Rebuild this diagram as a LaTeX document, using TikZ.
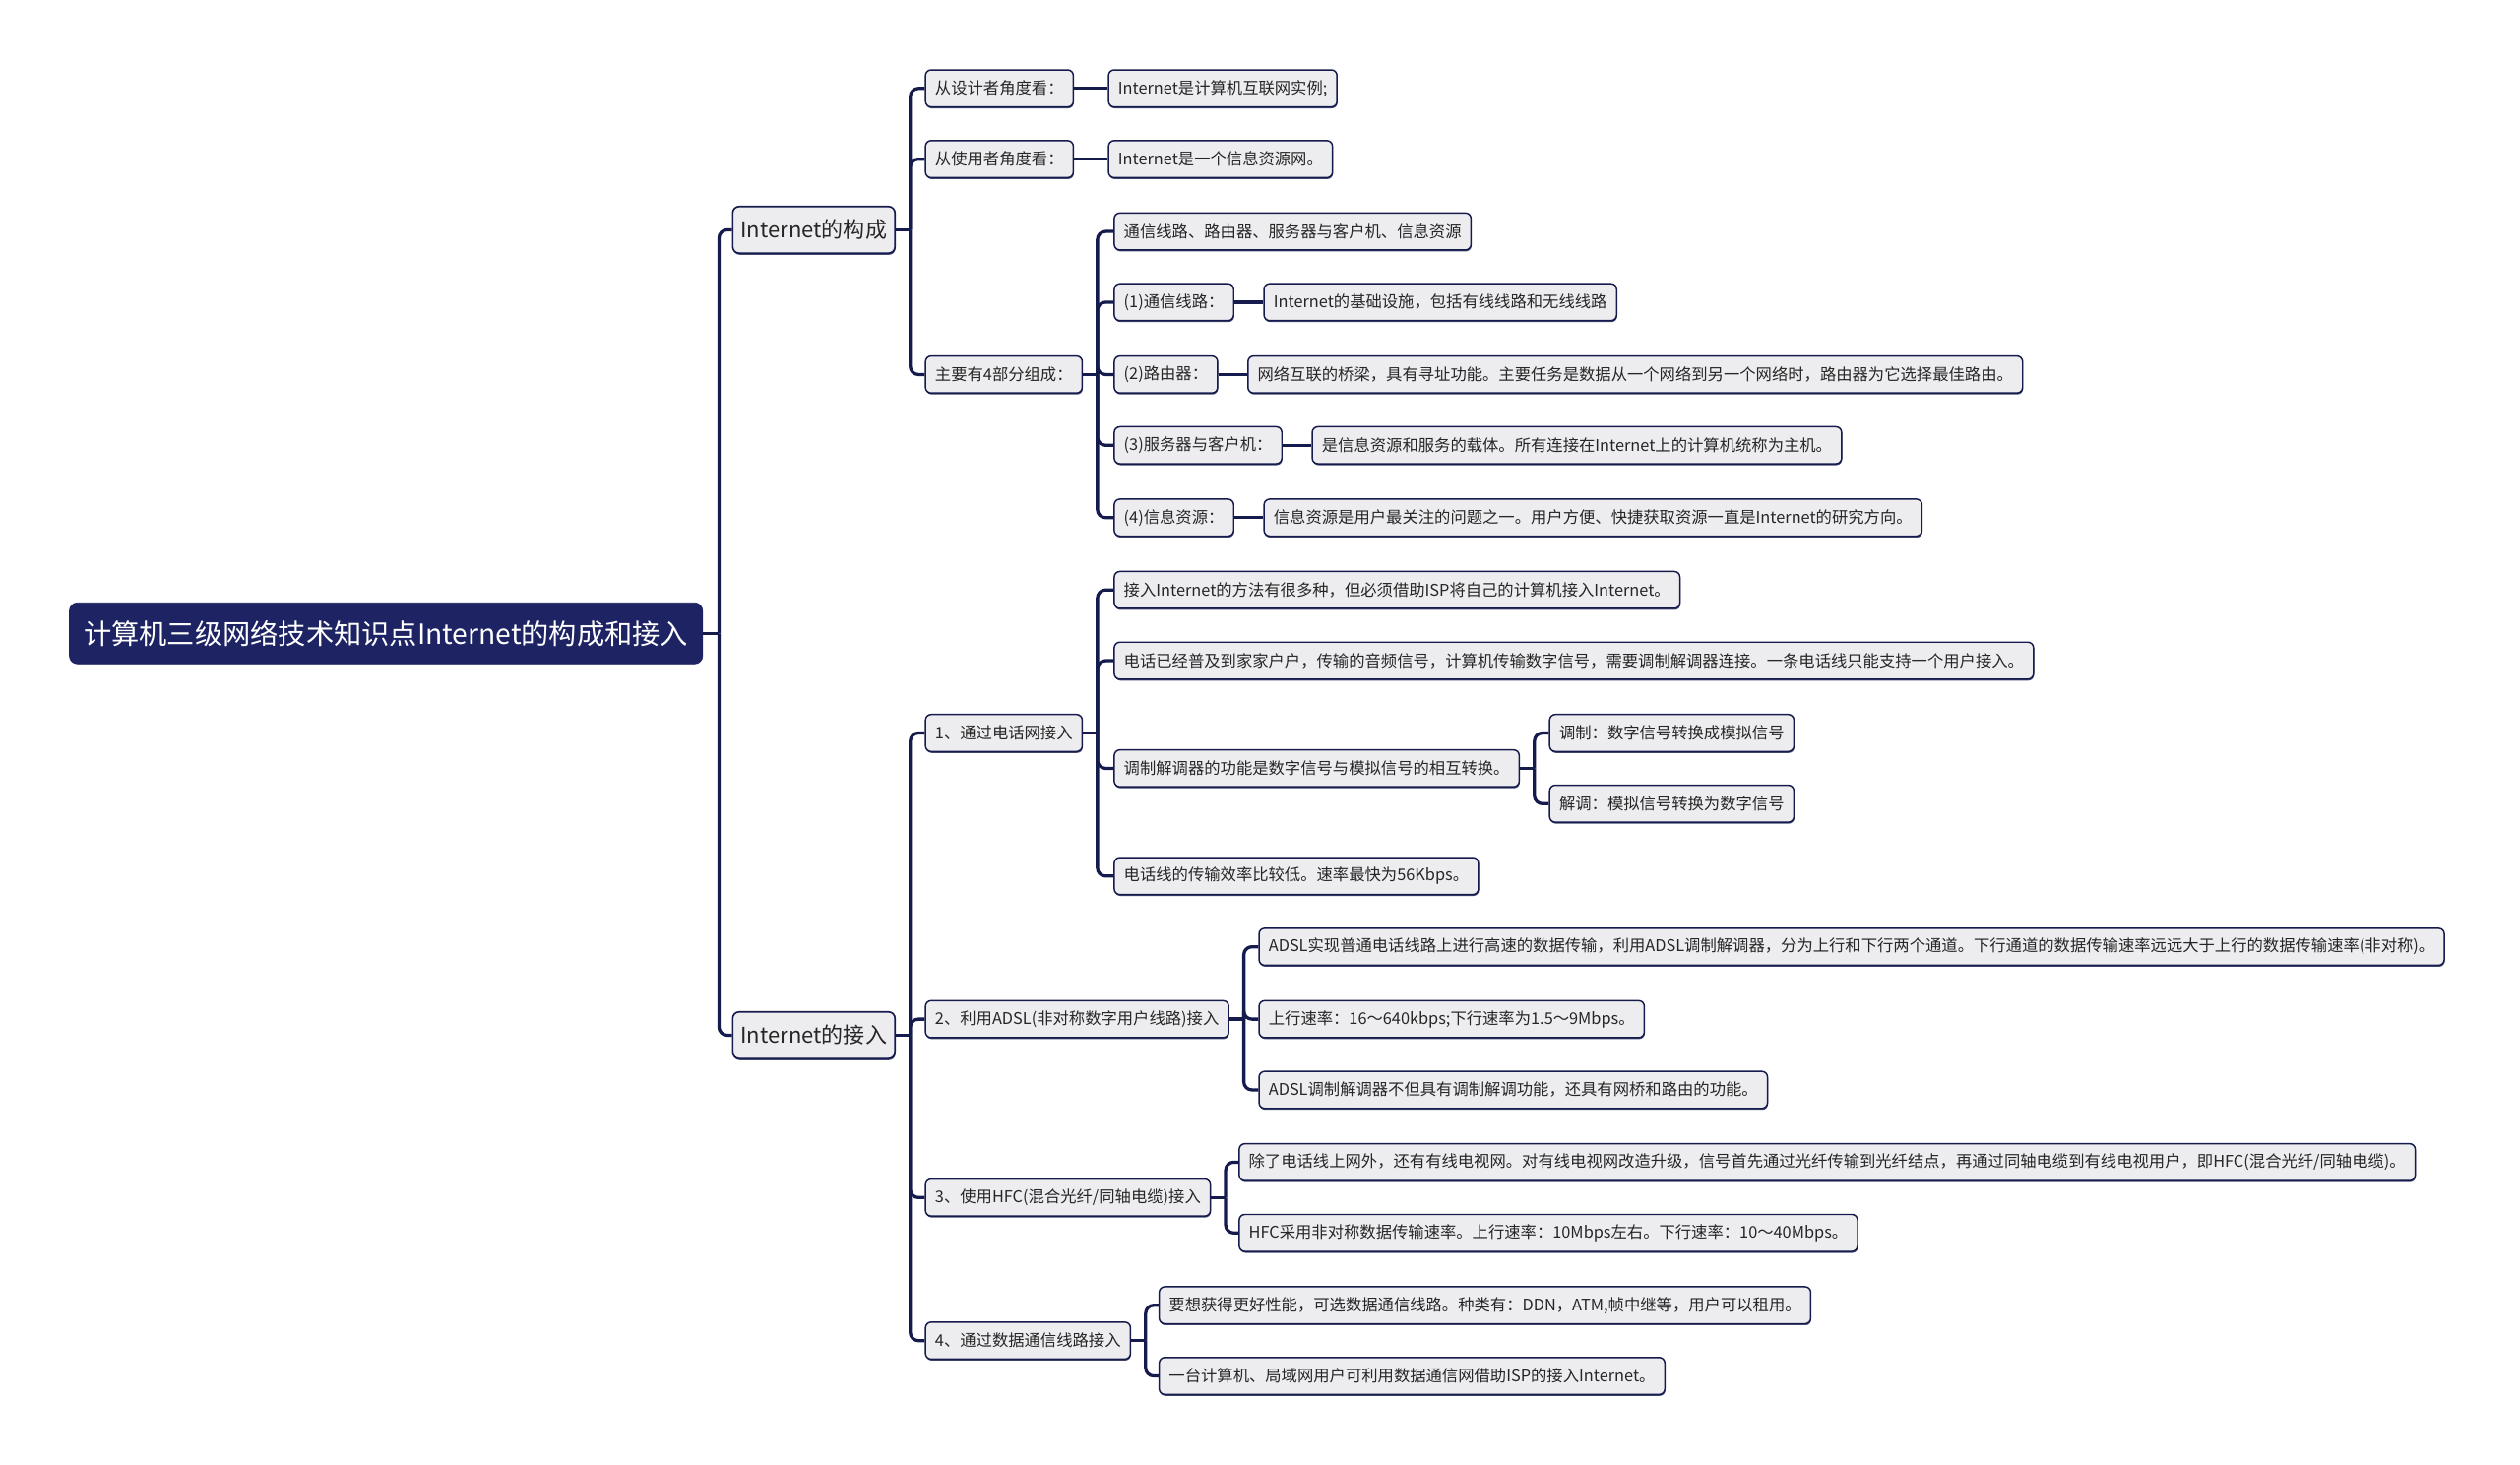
\documentclass[tikz,border=0pt]{standalone}
\usepackage{fontspec}
\newfontfamily\cjk{Noto Sans CJK SC}
\usetikzlibrary{positioning, shadows}

\definecolor{navy}{HTML}{1E2463}
\definecolor{linec}{HTML}{161B4D}
\definecolor{boxfill}{HTML}{EDEDF0}
\definecolor{textc}{HTML}{262626}

\begin{document}
\begin{tikzpicture}[
        % Node style: rounded boxes of the mind map
        rootbox/.style={
                rectangle, rounded corners=5pt,
                fill=navy, draw=navy, text=white,
                minimum height=38pt, minimum width=394pt, inner xsep=8pt,
                font=\cjk\fontsize{17.3}{20}\selectfont
            },
        mainbox/.style={
                rectangle, rounded corners=4pt,
                fill=boxfill, draw=linec, line width=1pt, text=textc,
                minimum height=29pt, minimum width=101pt, inner xsep=5pt,
                drop shadow={shadow xshift=0.3pt, shadow yshift=-1pt, fill=linec, opacity=.8},
                font=\cjk\fontsize{13.5}{16}\selectfont
            },
        subbox/.style={
                rectangle, rounded corners=3.5pt,
                fill=boxfill, draw=linec, line width=0.9pt, text=textc,
                minimum height=23pt, inner xsep=6pt,
                drop shadow={shadow xshift=0.3pt, shadow yshift=-0.9pt, fill=linec, opacity=.8},
                font=\cjk\fontsize{10}{12}\selectfont
            },
        % Connector style
        conn/.style={draw=linec, line width=2pt, rounded corners=5pt},
        node distance=18pt
    ]

    \useasboundingbox (0,0) rectangle (1568pt,-911pt);

    %% ---- Root and main topics ----
    \node[rootbox, anchor=west] (r) at (43pt,-394pt) {计算机三级网络技术知识点Internet的构成和接入};
    \node[mainbox, right=of r, yshift=251pt] (c) {Internet的构成};
    \node[mainbox, right=of r, yshift=-250pt] (j) {Internet的接入};

    %% ---- Internet的构成 ----
    \node[subbox, right=of c, yshift=88pt] (c1) {从设计者角度看：};
    \node[subbox, right=21pt of c1] (c1a) {Internet是计算机互联网实例;};
    \node[subbox, right=of c, yshift=44pt] (c2) {从使用者角度看：};
    \node[subbox, right=21pt of c2] (c2a) {Internet是一个信息资源网。};
    \node[subbox, right=of c, yshift=-90pt] (c3) {主要有4部分组成：};

    \node[subbox, right=19pt of c3, yshift=89pt] (c3a) {通信线路、路由器、服务器与客户机、信息资源};
    \node[subbox, right=19pt of c3, yshift=45pt] (c3b) {(1)通信线路：};
    \node[subbox, right=of c3b] (c3b1) {Internet的基础设施，包括有线线路和无线线路};
    \node[subbox, right=19pt of c3] (c3c) {(2)路由器：};
    \node[subbox, right=of c3c] (c3c1) {网络互联的桥梁，具有寻址功能。主要任务是数据从一个网络到另一个网络时，路由器为它选择最佳路由。};
    \node[subbox, right=19pt of c3, yshift=-44pt] (c3d) {(3)服务器与客户机：};
    \node[subbox, right=of c3d] (c3d1) {是信息资源和服务的载体。所有连接在Internet上的计算机统称为主机。};
    \node[subbox, right=19pt of c3, yshift=-89pt] (c3e) {(4)信息资源：};
    \node[subbox, right=of c3e] (c3e1) {信息资源是用户最关注的问题之一。用户方便、快捷获取资源一直是Internet的研究方向。};

    %% ---- Internet的接入 ----
    \node[subbox, right=of j, yshift=188pt] (j1) {1、通过电话网接入};
    \node[subbox, right=of j, yshift=10pt] (j2) {2、利用ADSL(非对称数字用户线路)接入};
    \node[subbox, right=of j, yshift=-101pt] (j3) {3、使用HFC(混合光纤/同轴电缆)接入};
    \node[subbox, right=of j, yshift=-190pt] (j4) {4、通过数据通信线路接入};

    \node[subbox, right=19pt of j1, yshift=89pt] (j1a) {接入Internet的方法有很多种，但必须借助ISP将自己的计算机接入Internet。};
    \node[subbox, right=19pt of j1, yshift=45pt] (j1b) {电话已经普及到家家户户，传输的音频信号，计算机传输数字信号，需要调制解调器连接。一条电话线只能支持一个用户接入。};
    \node[subbox, right=19pt of j1, yshift=-22pt] (j1c) {调制解调器的功能是数字信号与模拟信号的相互转换。};
    \node[subbox, right=of j1c, yshift=22pt] (j1c1) {调制：数字信号转换成模拟信号};
    \node[subbox, right=of j1c, yshift=-22pt] (j1c2) {解调：模拟信号转换为数字信号};
    \node[subbox, right=19pt of j1, yshift=-89pt] (j1d) {电话线的传输效率比较低。速率最快为56Kbps。};

    \node[subbox, right=of j2, yshift=45pt] (j2a) {ADSL实现普通电话线路上进行高速的数据传输，利用ADSL调制解调器，分为上行和下行两个通道。下行通道的数据传输速率远远大于上行的数据传输速率(非对称)。};
    \node[subbox, right=of j2] (j2b) {上行速率：16～640kbps;下行速率为1.5～9Mbps。};
    \node[subbox, right=of j2, yshift=-44pt] (j2c) {ADSL调制解调器不但具有调制解调功能，还具有网桥和路由的功能。};

    \node[subbox, right=17pt of j3, yshift=22pt] (j3a) {除了电话线上网外，还有有线电视网。对有线电视网改造升级，信号首先通过光纤传输到光纤结点，再通过同轴电缆到有线电视用户，即HFC(混合光纤/同轴电缆)。};
    \node[subbox, right=17pt of j3, yshift=-22pt] (j3b) {HFC采用非对称数据传输速率。上行速率：10Mbps左右。下行速率：10～40Mbps。};

    \node[subbox, right=17pt of j4, yshift=22pt] (j4a) {要想获得更好性能，可选数据通信线路。种类有：DDN，ATM,帧中继等，用户可以租用。};
    \node[subbox, right=17pt of j4, yshift=-22pt] (j4b) {一台计算机、局域网用户可利用数据通信网借助ISP的接入Internet。};

    %% ---- Fork points (where the spines start) ----
    \coordinate[right=10pt of r] (rf);
    \coordinate[right=9pt of c] (cf);
    \coordinate[right=9pt of c3] (c3f);
    \coordinate[right=9pt of j] (jf);
    \coordinate[right=9pt of j1] (j1f);
    \coordinate[right=9pt of j1c] (j1cf);
    \coordinate[right=9pt of j2] (j2f);
    \coordinate[right=9pt of j3] (j3f);
    \coordinate[right=9pt of j4] (j4f);

    %% ---- Connectors: root ----
    \draw[conn] (r) -- (rf);
    \draw[conn] (rf) |- (c);
    \draw[conn] (rf) |- (j);

    %% ---- Connectors: Internet的构成 ----
    \draw[conn] (c) -- (cf);
    \draw[conn] (cf) |- (c1);
    \draw[conn] (cf) |- (c2);
    \draw[conn] (cf) |- (c3);
    \draw[conn] (c1) -- (c1a);
    \draw[conn] (c2) -- (c2a);

    \draw[conn] (c3) -- (c3f);
    \draw[conn] (c3f) |- (c3a);
    \draw[conn] (c3f) |- (c3b);
    \draw[conn] (c3f) |- (c3c);
    \draw[conn] (c3f) |- (c3d);
    \draw[conn] (c3f) |- (c3e);
    \draw[conn] (c3b) -- (c3b1);
    \draw[conn] (c3c) -- (c3c1);
    \draw[conn] (c3d) -- (c3d1);
    \draw[conn] (c3e) -- (c3e1);

    %% ---- Connectors: Internet的接入 ----
    \draw[conn] (j) -- (jf);
    \draw[conn] (jf) |- (j1);
    \draw[conn] (jf) |- (j2);
    \draw[conn] (jf) |- (j3);
    \draw[conn] (jf) |- (j4);

    \draw[conn] (j1) -- (j1f);
    \draw[conn] (j1f) |- (j1a);
    \draw[conn] (j1f) |- (j1b);
    \draw[conn] (j1f) |- (j1c);
    \draw[conn] (j1f) |- (j1d);
    \draw[conn] (j1c) -- (j1cf);
    \draw[conn] (j1cf) |- (j1c1);
    \draw[conn] (j1cf) |- (j1c2);

    \draw[conn] (j2) -- (j2f);
    \draw[conn] (j2f) |- (j2a);
    \draw[conn] (j2f) |- (j2b);
    \draw[conn] (j2f) |- (j2c);

    \draw[conn] (j3) -- (j3f);
    \draw[conn] (j3f) |- (j3a);
    \draw[conn] (j3f) |- (j3b);

    \draw[conn] (j4) -- (j4f);
    \draw[conn] (j4f) |- (j4a);
    \draw[conn] (j4f) |- (j4b);

\end{tikzpicture}
\end{document}
